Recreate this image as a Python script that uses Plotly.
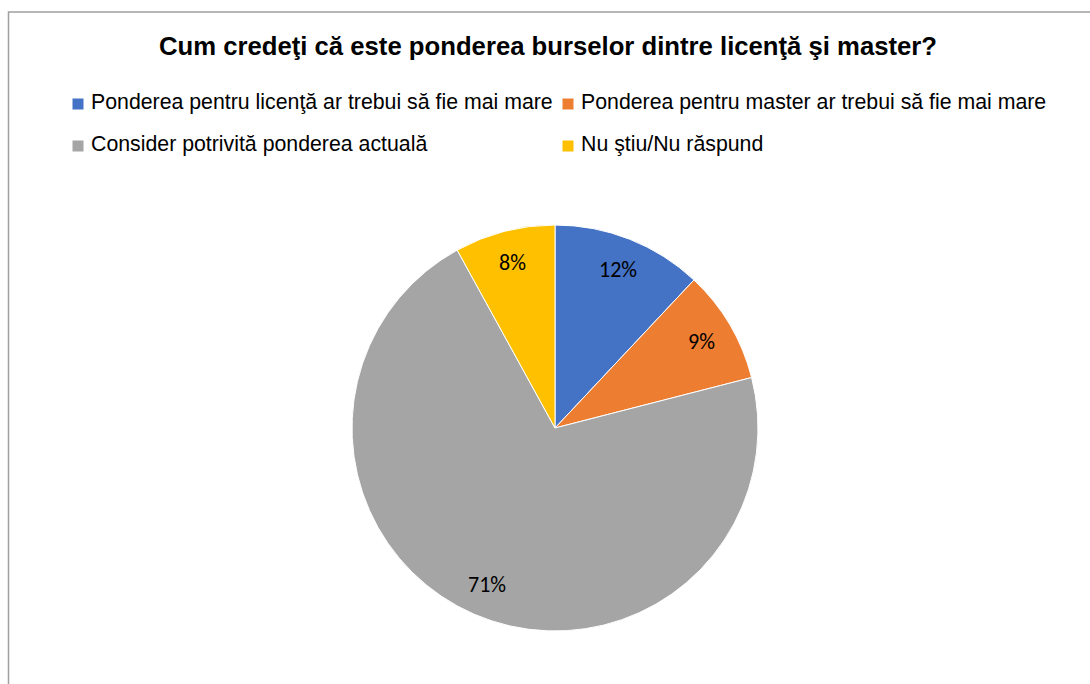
import math
import plotly.graph_objects as go

# Survey answers and their shares (%)
labels = [
    "Ponderea pentru licenţă ar trebui să fie mai mare",
    "Ponderea pentru master ar trebui să fie mai mare",
    "Consider potrivită ponderea actuală",
    "Nu ştiu/Nu răspund",
]
values = [12, 9, 71, 8]
colors = ["#4472C4", "#ED7D31", "#A5A5A5", "#FFC000"]
title_text = "Cum credeţi că este ponderea burselor dintre licenţă şi master?"

W, H = 1090, 684
cx, cy, R = 555, 428, 203  # pie centre and radius in pixels

fig = go.Figure(
    go.Pie(
        labels=labels,
        values=values,
        marker=dict(colors=colors, line=dict(color="white", width=1)),
        sort=False,
        direction="clockwise",
        rotation=0,
        textinfo="none",
        hoverinfo="label+percent",
        showlegend=False,
        domain=dict(x=[(cx - R) / W, (cx + R) / W], y=[(H - cy - R) / H, (H - cy + R) / H]),
    )
)

annotations = []
shapes = []

# Percentage labels placed along each slice's mid-angle
total = sum(values)
cum = 0
for v in values:
    mid = (cum + v / 2) / total * 2 * math.pi
    cum += v
    px = cx + 0.84 * R * math.sin(mid)
    py = cy - 0.84 * R * math.cos(mid)
    annotations.append(dict(
        x=px / W, y=(H - py) / H, xref="paper", yref="paper",
        text=f"{round(v / total * 100)}%", showarrow=False,
        font=dict(family="Carlito, Lato, sans-serif", size=22, color="#000000"),
        xanchor="center", yanchor="middle",
    ))

# Two-column legend
leg_pos = [(78, 104), (568, 104), (78, 146), (568, 146)]
for (lx, ly), lab, col in zip(leg_pos, labels, colors):
    shapes.append(dict(
        type="rect", xref="paper", yref="paper",
        x0=(lx - 5.5) / W, x1=(lx + 5.5) / W, y0=(H - ly - 5.5) / H, y1=(H - ly + 5.5) / H,
        fillcolor=col, line=dict(width=0),
    ))
    annotations.append(dict(
        x=(lx + 11) / W, y=(H - ly + 2) / H, xref="paper", yref="paper",
        text=lab, showarrow=False, xanchor="left", yanchor="middle",
        font=dict(family="Liberation Sans, Arial, sans-serif", size=21.3, color="#000000"),
    ))

# Chart frame
shapes.append(dict(
    type="rect", xref="paper", yref="paper",
    x0=8.5 / W, x1=1.02, y0=-0.02, y1=(H - 12) / H,
    line=dict(color="#A0A0A0", width=1.5), fillcolor="rgba(0,0,0,0)", layer="below",
))

fig.update_layout(
    width=W, height=H,
    margin=dict(l=0, r=0, t=0, b=0),
    paper_bgcolor="white", plot_bgcolor="white",
    title=dict(
        text=f"<b>{title_text}</b>", x=548 / W, xanchor="center",
        y=(H - 46) / H, yanchor="middle",
        font=dict(family="Liberation Sans, Arial, sans-serif", size=25.7, color="#000000"),
    ),
    annotations=annotations,
    shapes=shapes,
)

fig.write_html("out.html")
